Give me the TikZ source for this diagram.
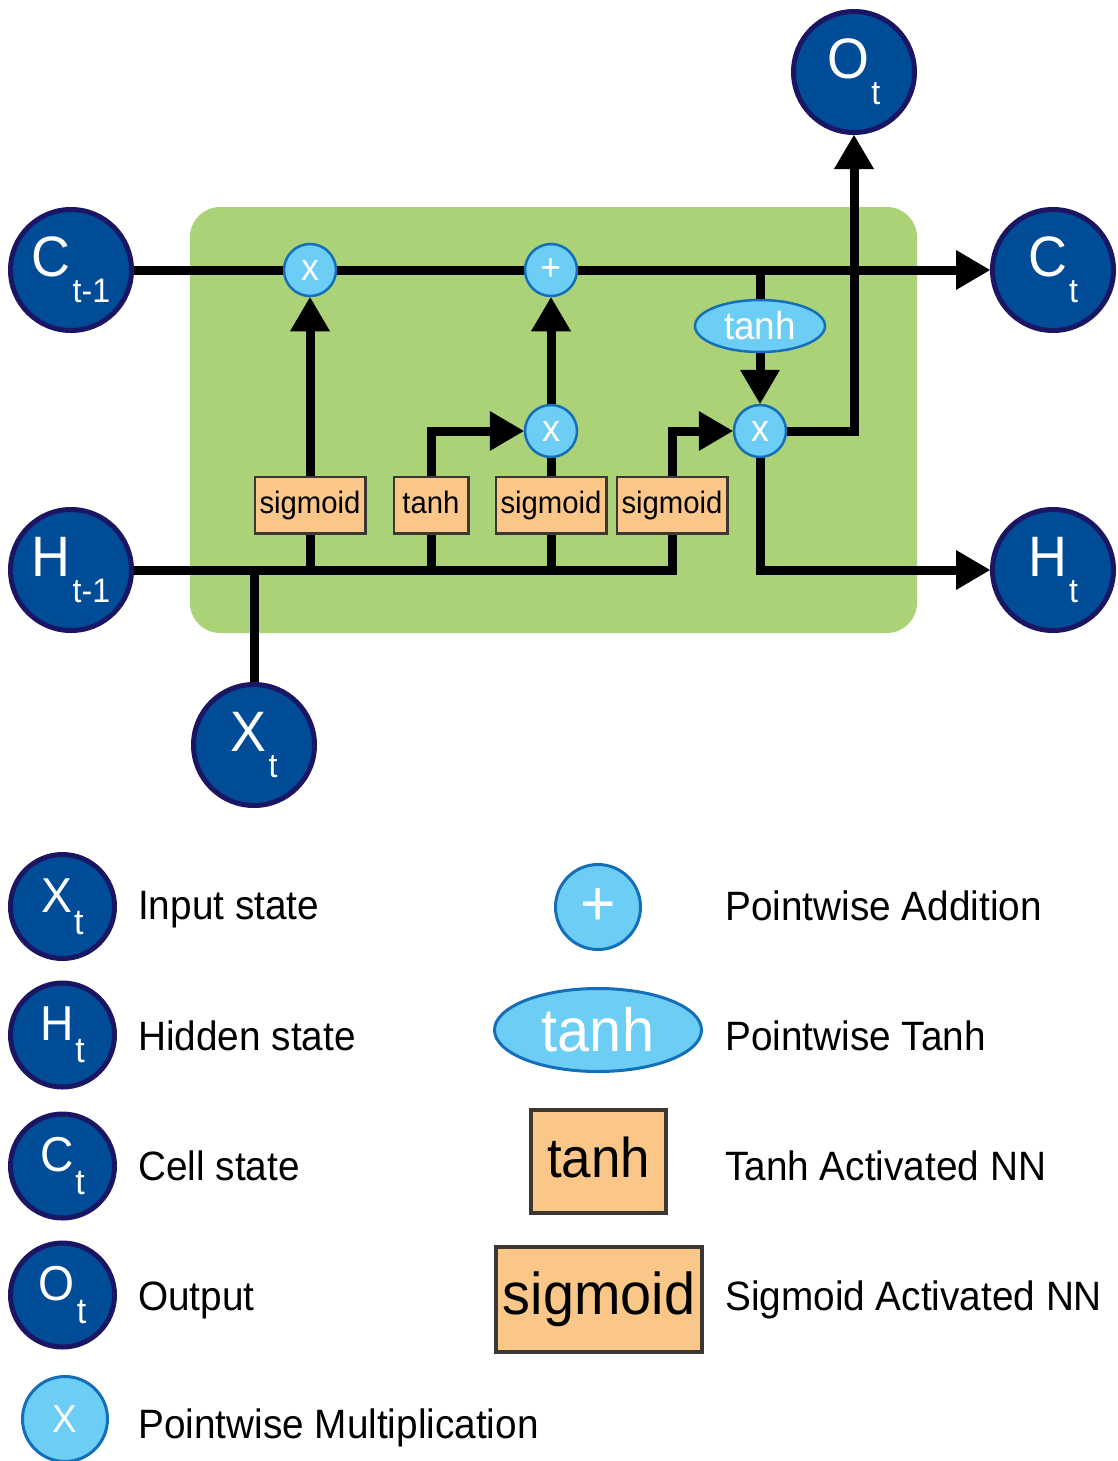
\documentclass[tikz,border=0pt]{standalone}
\usepackage{fontspec}
\setmainfont[FakeStretch=0.945]{Liberation Sans}
\usetikzlibrary{arrows.meta,shapes.geometric}
\definecolor{Sblue}{RGB}{0,76,151}
\definecolor{Snavy}{RGB}{27,22,99}
\definecolor{Lblue}{RGB}{108,205,245}
\definecolor{Ledge}{RGB}{20,110,185}
\definecolor{Gfill}{RGB}{171,210,118}
\definecolor{Ofill}{RGB}{251,199,137}
\definecolor{Oedge}{RGB}{60,55,50}
\newcommand{\Sub}[2][34]{\kern2pt\raisebox{-.45em}{\fontsize{#1}{#1}\selectfont #2}}
\begin{document}
\begin{tikzpicture}[x=1pt,y=-1pt,line join=miter,
  >={Triangle[length=34pt,width=40pt,line width=0pt]},
  conn/.style={line width=9pt},
  bigstate/.style={circle,draw=Snavy,fill=Sblue,line width=5pt,minimum size=121pt,inner sep=0pt,text=white,font=\fontsize{57}{60}\selectfont},
  keystate/.style={bigstate,minimum size=104pt,font=\fontsize{49}{50}\selectfont},
  op/.style={circle,draw=Ledge,fill=Lblue,line width=2.5pt,minimum size=52pt,inner sep=0pt,text=white,font=\fontsize{38}{40}\selectfont},
  keyop/.style={op,line width=3pt,minimum size=85pt},
  optanh/.style={ellipse,draw=Ledge,fill=Lblue,line width=2.5pt,minimum width=130pt,minimum height=52pt,inner sep=0pt,text=white,font=\fontsize{39}{40}\selectfont},
  nnbox/.style={rectangle,draw=Oedge,fill=Ofill,line width=2.5pt,minimum width=110.5pt,minimum height=56.5pt,inner sep=0pt,text height=22.5pt,text depth=6.5pt,font=\fontsize{31}{32}\selectfont},
  lbl/.style={anchor=base west,inner sep=0pt,font=\fontsize{41}{44}\selectfont}]
\useasboundingbox (0,0) rectangle (1118,1461);
\node[rectangle,fill=Gfill,rounded corners=30pt,minimum width=727pt,minimum height=426pt] (cell) at (553.5,420) {};
\node[bigstate] (ctprev) at (71,270) {C\Sub{t-1}};
\node[bigstate] (htprev) at (71,570) {H\Sub{t-1}};
\node[bigstate] (xt) at (254,745) {X\Sub{t}};
\node[bigstate] (ot) at (854,72) {O\Sub{t}};
\node[bigstate] (ct) at (1053,270) {C\Sub{t}};
\node[bigstate] (ht) at (1053,570) {H\Sub{t}};
\node[op] (mulf) at (310,270) {x};
\node[op] (addc) at (551,270) {+};
\node[op] (muli) at (551,431) {x};
\node[op] (mulo) at (760,431) {x};
\node[optanh] (ptanh) at (760,326) {tanh};
\node[nnbox] (sigf) at (310,505) {sigmoid};
\node[nnbox,minimum width=74.5pt] (tanhi) at (431,505) {tanh};
\node[nnbox] (sigi) at (551,505) {sigmoid};
\node[nnbox] (sigo) at (672,505) {sigmoid};
\draw[conn,->] (ctprev) -- (mulf) -- (addc) -- (ct);
\draw[conn] (addc -| ptanh) -- (ptanh);
\draw[conn,->] (ptanh) -- (mulo);
\draw[conn,->] (mulo) -| (ot);
\draw[conn,->] (mulo) |- (ht);
\draw[conn] (htprev) -| (sigo);
\draw[conn] (xt) -- (xt |- htprev);
\draw[conn] (sigf) -- (sigf |- htprev);
\draw[conn] (tanhi) -- (tanhi |- htprev);
\draw[conn] (sigi) -- (sigi |- htprev);
\draw[conn,->] (sigf) -- (mulf);
\draw[conn,->] (tanhi) |- (muli);
\draw[conn] (sigi) -- (muli);
\draw[conn,->] (muli) -- (addc);
\draw[conn,->] (sigo) |- (mulo);
\node[keystate] (kxt) at (62.5,906.5) {X\Sub[36]{t}};
\node[keystate] (kht) at (62.5,1035) {H\Sub[36]{t}};
\node[keystate] (kct) at (62.5,1166) {C\Sub[36]{t}};
\node[keystate] (kot) at (62.5,1295) {O\Sub[36]{t}};
\node[keyop,font=\fontsize{39}{40}\selectfont] (kmul) at (65,1419) {X};
\node[lbl] (lxt) at (138,919) {Input state};
\node[lbl] (lht) at (138,1050) {Hidden state};
\node[lbl] (lct) at (138,1180) {Cell state};
\node[lbl] (lot) at (138,1310) {Output};
\node[lbl] (lmul) at (138,1438) {Pointwise Multiplication};
\node[keyop,font=\fontsize{64}{64}\selectfont] (kadd) at (598,907) {+};
\node[optanh,line width=3pt,minimum width=207pt,minimum height=83pt,font=\fontsize{61}{62}\selectfont] (ktanh) at (598,1030) {tanh};
\node[nnbox,line width=4pt,minimum width=135pt,minimum height=103pt,text height=41pt,text depth=10pt,font=\fontsize{56}{58}\selectfont] (ktbox) at (598.5,1161.5) {tanh};
\node[nnbox,line width=4pt,minimum width=206pt,minimum height=105pt,text height=43pt,text depth=12.5pt,font=\fontsize{59}{60}\selectfont] (ksbox) at (599,1299.5) {sigmoid};
\node[lbl] (ladd) at (725,920) {Pointwise Addition};
\node[lbl] (ltanh) at (725,1050) {Pointwise Tanh};
\node[lbl] (ltbox) at (725,1180) {Tanh Activated NN};
\node[lbl] (lsbox) at (725,1310) {Sigmoid Activated NN};
\end{tikzpicture}
\end{document}
